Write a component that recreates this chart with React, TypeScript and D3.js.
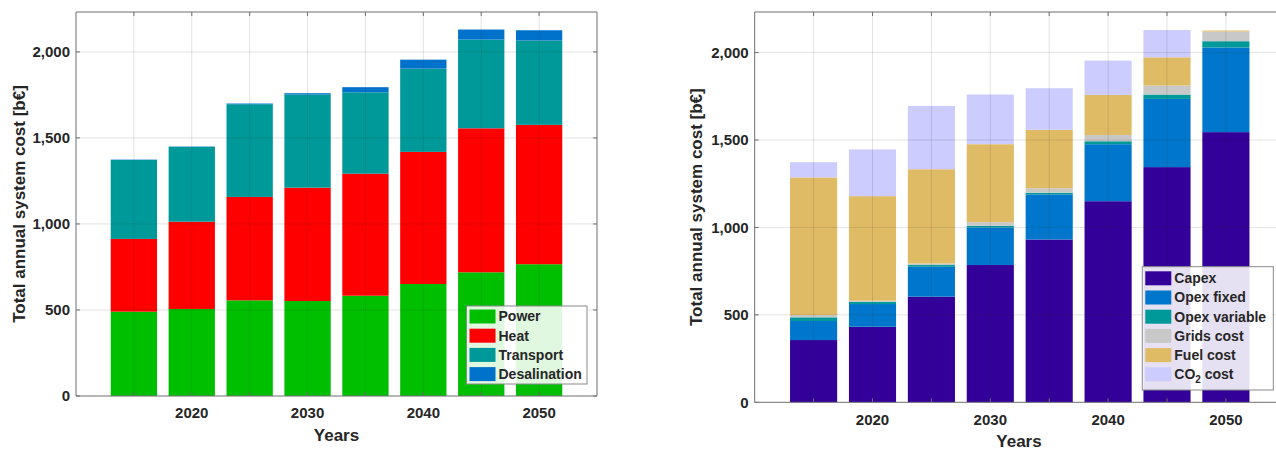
import React from "react";
import * as d3 from "d3";

const years = [2015, 2020, 2025, 2030, 2035, 2040, 2045, 2050];
const xTickLabels = [2020, 2030, 2040, 2050];
const yTicks = [0, 500, 1000, 1500, 2000];

// Left chart (by sector)
const sectorNames = ["Power", "Heat", "Transport", "Desalination"];
const power = [490, 506, 556, 552, 583, 651, 719, 766];
const heat = [423, 507, 601, 659, 709, 768, 837, 810];
const transport = [459, 435, 539, 541, 473, 484, 516, 490];
const desalination = [2, 2, 4, 8, 30, 52, 58, 60];
const sectorColors = ["#00bf00", "#ff0000", "#009999", "#0072cc"];

// Right chart (by cost type)
const costNames = ["Capex", "Opex fixed", "Opex variable", "Grids cost", "Fuel cost", "CO2 cost"];
const capex = [356, 432, 604, 785, 931, 1150, 1345, 1545];
const opexFixed = [109, 130, 171, 215, 258, 326, 390, 484];
const opexVariable = [21, 13, 10, 9, 9, 17, 25, 36];
const gridsCost = [13, 6, 9, 21, 26, 36, 51, 55];
const fuelCost = [787, 598, 539, 446, 334, 229, 162, 6];
const co2Cost = [87, 267, 362, 284, 238, 196, 156, 0];
const costColors = ["#330099", "#0077cc", "#009999", "#c8c8c8", "#e0bb66", "#ccccff"];

const FONT = "Liberation Sans, Arial, Helvetica, sans-serif";
const TXT = "#262626";
const AXC = "#6e6e6e";

type Panel = {
  x0: number; x1: number; yTop: number; yBot: number;
  names: string[]; series: number[][]; colors: string[];
  yLabelX: number; xTickY: number; xLabelY: number; xLabelX: number;
  legend: { x: number; y: number; w: number; h: number; rowY0: number; rowDy: number };
  drawRight: boolean;
};

function StackChart({ p }: { p: Panel }) {
  const x = d3.scaleLinear().domain([2010, 2055]).range([p.x0, p.x1]);
  const y = d3.scaleLinear().domain([0, 2232]).range([p.yBot, p.yTop]);
  const rows = years.map((yr, i) => {
    const o: any = { year: yr };
    p.names.forEach((n, k) => (o[n] = p.series[k][i]));
    return o;
  });
  const stacked = d3.stack<any>().keys(p.names)(rows);
  const bw = x(2014) - x(2010);
  const minorTicks = years;
  const gridColor = "rgba(38,38,38,0.13)";
  const tl = 4;
  const L = p.legend;
  return (
    <g fontFamily={FONT} fill={TXT}>
      {stacked.map((s, k) => (
        <g key={k} fill={p.colors[k]}>
          {s.map((d, i) => (
            <rect key={i} x={x(d.data.year) - bw / 2} width={bw}
              y={y(d[1])} height={Math.max(0, y(d[0]) - y(d[1]))} />
          ))}
        </g>
      ))}
      {/* grid */}
      {minorTicks.map((t) => (
        <line key={"gx" + t} x1={x(t)} x2={x(t)} y1={p.yTop} y2={p.yBot} stroke={gridColor} />
      ))}
      {yTicks.slice(1).map((t) => (
        <line key={"gy" + t} x1={p.x0} x2={p.x1} y1={y(t)} y2={y(t)} stroke={gridColor} />
      ))}
      {/* axes box */}
      <line x1={p.x0} x2={p.x1} y1={p.yBot} y2={p.yBot} stroke={AXC} />
      <line x1={p.x0} x2={p.x1} y1={p.yTop} y2={p.yTop} stroke={AXC} />
      <line x1={p.x0} x2={p.x0} y1={p.yTop} y2={p.yBot} stroke={AXC} />
      {p.drawRight && <line x1={p.x1} x2={p.x1} y1={p.yTop} y2={p.yBot} stroke={AXC} />}
      {minorTicks.map((t) => (
        <g key={"tx" + t} stroke={AXC}>
          <line x1={x(t)} x2={x(t)} y1={p.yBot} y2={p.yBot - tl} />
          <line x1={x(t)} x2={x(t)} y1={p.yTop} y2={p.yTop + tl} />
        </g>
      ))}
      {yTicks.map((t) => (
        <g key={"ty" + t} stroke={AXC}>
          <line x1={p.x0} x2={p.x0 + tl} y1={y(t)} y2={y(t)} />
          {p.drawRight && <line x1={p.x1} x2={p.x1 - tl} y1={y(t)} y2={y(t)} />}
        </g>
      ))}
      {yTicks.map((t) => (
        <text key={"yl" + t} x={p.x0 - 6} y={y(t)} dy="0.35em" textAnchor="end"
          fontSize={15} fontWeight="bold">{d3.format(",")(t)}</text>
      ))}
      {xTickLabels.map((t) => (
        <text key={"xl" + t} x={x(t)} y={p.xTickY} textAnchor="middle"
          fontSize={15} fontWeight="bold">{t}</text>
      ))}
      <text x={p.xLabelX} y={p.xLabelY} textAnchor="middle"
        fontSize={17} fontWeight="bold">Years</text>
      <text transform={`translate(${p.yLabelX},${(p.yTop + p.yBot) / 2}) rotate(-90)`}
        textAnchor="middle" dy="0.35em" fontSize={17} fontWeight="bold">
        Total annual system cost [b€]
      </text>
      {/* legend */}
      <rect x={L.x} y={L.y} width={L.w} height={L.h} fill="rgba(255,255,255,0.88)" stroke="#8a8a8a" />
      {p.names.map((n, k) => {
        const cy = L.rowY0 + k * L.rowDy;
        return (
          <g key={"lg" + n}>
            <rect x={L.x + 3} y={cy - 7} width={26} height={14} fill={p.colors[k]} />
            <text x={L.x + 32} y={cy} dy="0.35em" fontSize={14} fontWeight="bold">
              {n === "CO2 cost" ? (
                <>
                  CO<tspan fontSize={10} dy="4">2</tspan><tspan dy="-4"> cost</tspan>
                </>
              ) : n}
            </text>
          </g>
        );
      })}
    </g>
  );
}

export default function App() {
  const left: Panel = {
    x0: 76, x1: 597, yTop: 12, yBot: 396,
    names: sectorNames, series: [power, heat, transport, desalination], colors: sectorColors,
    yLabelX: 19, xTickY: 418, xLabelY: 441, xLabelX: 336.5,
    legend: { x: 466.5, y: 306, w: 120.5, h: 78, rowY0: 316.5, rowDy: 19.2 },
    drawRight: true,
  };
  const right: Panel = {
    x0: 754.7, x1: 1284.8, yTop: 12, yBot: 402.3,
    names: costNames, series: [capex, opexFixed, opexVariable, gridsCost, fuelCost, co2Cost],
    colors: costColors,
    yLabelX: 696, xTickY: 424.5, xLabelY: 446.5, xLabelX: 1019,
    legend: { x: 1142.3, y: 266.7, w: 131, h: 123.3, rowY0: 278.3, rowDy: 19.2 },
    drawRight: false,
  };
  return (
    <svg width={1276} height={450} style={{ position: "absolute", left: 0, top: 0, background: "#fff" }}>
      <rect width={1276} height={450} fill="#fff" />
      <StackChart p={left} />
      <StackChart p={right} />
    </svg>
  );
}
